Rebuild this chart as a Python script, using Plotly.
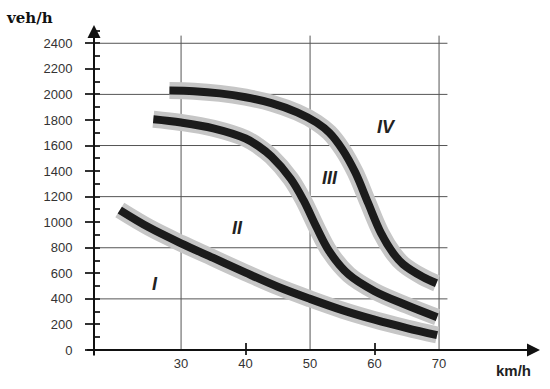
import plotly.graph_objects as go

# ---- data ----
speed_I = [20.5, 25, 30, 35, 40, 45, 50, 55, 60, 65, 69.7]
flow_I = [1095, 960, 835, 720, 605, 495, 400, 312, 237, 172, 117]

speed_II = [25.7, 30, 35, 40, 42, 44, 47, 49, 51, 53, 56, 60, 65, 69.7]
flow_II = [1805, 1780, 1735, 1655, 1595, 1515, 1340, 1170, 960, 770, 590, 460, 350, 257]

speed_III = [28.2, 32, 36, 40, 44, 48, 51, 53, 55, 57, 59, 61, 63, 64.4, 67.5, 69.6]
flow_III = [2030, 2025, 2008, 1978, 1932, 1860, 1780, 1700, 1570, 1390, 1150, 915, 750, 672, 571, 522]

curves = [(speed_I, flow_I), (speed_II, flow_II), (speed_III, flow_III)]

region_labels = ["I", "II", "III", "IV"]
region_speed = [25.95, 38.7, 53.05, 61.9]
region_flow = [520, 951, 1346, 1745]

x_ticks = [30, 40, 50, 60, 70]
x_small_ticks = [40, 60]
y_ticks = list(range(0, 2401, 200))
grid_speeds = [30, 50, 70]
grid_flows = [400, 800, 1200, 1600, 2000, 2400]

X_MIN, X_MAX = 16.5, 85.65
Y_MIN, Y_MAX = 0, 2543

fig = go.Figure()
for sx, fy in curves:
    fig.add_trace(go.Scatter(x=sx, y=fy, mode="lines", line=dict(color="#c6c6c6", width=17, shape="spline", smoothing=1),
                             hoverinfo="skip", showlegend=False))
    fig.add_trace(go.Scatter(x=sx, y=fy, mode="lines", line=dict(color="#1b1b1b", width=8, shape="spline", smoothing=1),
                             showlegend=False))

# empty traces to activate overlay axes used for tick marks
fig.add_trace(go.Scatter(x=[], y=[], xaxis="x2", yaxis="y2", showlegend=False))
fig.add_trace(go.Scatter(x=[], y=[], xaxis="x3", yaxis="y", showlegend=False))

# region labels
for lab, sx, fy in zip(region_labels, region_speed, region_flow):
    fig.add_annotation(x=sx, y=fy, text=f"<b><i>{lab}</i></b>", showarrow=False,
                       font=dict(family="Liberation Sans", size=18, color="#222"))

# grid lines
for g in grid_speeds:
    fig.add_shape(type="line", x0=g, x1=g, y0=0, y1=2460, xref="x", yref="y",
                  line=dict(color="#555", width=1), layer="below")
for g in grid_flows:
    fig.add_shape(type="line", x0=X_MIN, x1=71.3, y0=g, y1=g, xref="x", yref="y",
                  line=dict(color="#555", width=1), layer="below")

# axis arrows
fig.add_annotation(x=X_MIN, y=Y_MAX, ax=X_MIN, ay=-55, xref="x", yref="y", axref="x", ayref="y",
                   text="", showarrow=True, arrowhead=2, arrowsize=1.3, arrowwidth=2, arrowcolor="#111", standoff=0)
fig.add_annotation(x=X_MAX, y=0, ax=15.2, ay=0, xref="x", yref="y", axref="x", ayref="y",
                   text="", showarrow=True, arrowhead=2, arrowsize=1.3, arrowwidth=2, arrowcolor="#111", standoff=0)

# axis titles
fig.add_annotation(x=0.0, y=1.0, xref="paper", yref="paper", xanchor="left", yanchor="top",
                   xshift=-90, yshift=18, text="<b>veh/h</b>", showarrow=False,
                   font=dict(family="DejaVu Serif", size=15, color="#111"))
fig.add_annotation(x=1.0, y=0.0, xref="paper", yref="paper", xanchor="right", yanchor="middle",
                   xshift=-7, yshift=-20, text="<b>km/h</b>", showarrow=False,
                   font=dict(family="Liberation Sans", size=15, color="#222"))

tickfont = dict(family="Liberation Sans", size=13, color="#333")
fig.update_layout(
    width=550, height=389,
    margin=dict(l=94, r=10, t=25, b=39),
    paper_bgcolor="white", plot_bgcolor="white",
    xaxis=dict(range=[X_MIN, X_MAX], tickmode="array", tickvals=x_ticks, ticktext=[str(v) for v in x_ticks],
               ticks="", showgrid=False, zeroline=False, showline=False, tickfont=tickfont, ticklabelstandoff=4),
    xaxis2=dict(range=[X_MIN, X_MAX], overlaying="x", tickmode="array", tickvals=x_small_ticks, ticks="inside",
                ticklen=7, tickwidth=1.5, tickcolor="#333", showticklabels=False, showgrid=False, zeroline=False,
                showline=False),
    xaxis3=dict(range=[X_MIN, X_MAX], overlaying="x", tickmode="array", tickvals=x_small_ticks, ticks="outside",
                ticklen=4, tickwidth=1.5, tickcolor="#333", showticklabels=False, showgrid=False, zeroline=False,
                showline=False),
    yaxis=dict(range=[Y_MIN, Y_MAX], tickmode="array", tickvals=y_ticks, ticktext=[str(v) for v in y_ticks],
               ticks="outside", ticklen=8, tickwidth=1.5, tickcolor="#333", showgrid=False, zeroline=False,
               showline=False, tickfont=tickfont, ticklabelstandoff=10),
    yaxis2=dict(range=[Y_MIN, Y_MAX], overlaying="y", tickmode="linear", tick0=0, dtick=100, ticks="inside",
                ticklen=6, tickwidth=1.5, tickcolor="#333", showticklabels=False, showgrid=False, zeroline=False,
                showline=False, side="left"),
    showlegend=False,
)

fig.write_html("out.html", config={"displayModeBar": False},
               post_script="document.body.style.margin='0';")
